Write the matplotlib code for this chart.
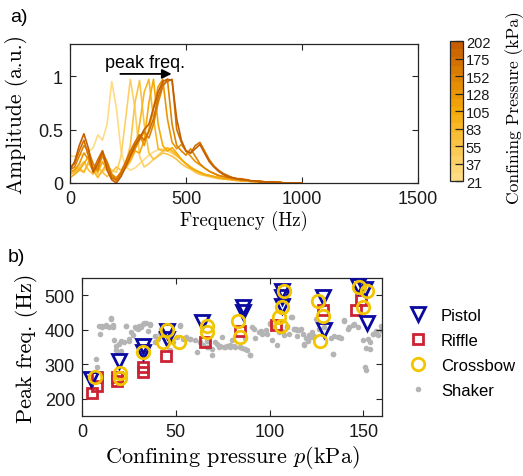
import matplotlib
matplotlib.use('Agg')
import matplotlib.pyplot as plt
import numpy as np
from matplotlib.colors import LinearSegmentedColormap, Normalize
from matplotlib.cm import ScalarMappable

plt.rcParams['font.family'] = ['Liberation Sans', 'DejaVu Sans']
plt.rcParams['mathtext.fontset'] = 'cm'

# ---- panel a: spectra (20 Hz grid, 0..1000 Hz) ----
freq = np.arange(0, 1001, 20)
pressures = [21, 37, 55, 83, 105, 128, 152, 175, 202]
spectra = [
    [0.25, 0.25, 0.26, 0.27, 0.29, 0.33, 0.45, 0.40, 0.55, 0.95,
     0.70, 0.30, 0.15, 0.12, 0.14, 0.18, 0.22, 0.26, 0.29, 0.31,
     0.32, 0.31, 0.29, 0.26, 0.22, 0.18, 0.14, 0.11, 0.09, 0.08,
     0.07, 0.06, 0.05, 0.05, 0.04, 0.04, 0.03, 0.03, 0.02, 0.02,
     0.02, 0.01, 0.01, 0.01, 0.01, 0.01, 0.0, 0.0, 0.0, 0.0, 0.0],
    [0.15, 0.14, 0.12, 0.10, 0.18, 0.12, 0.08, 0.10, 0.15, 0.12,
     0.10, 0.25, 0.60, 0.97, 0.70, 0.25, 0.15, 0.18, 0.22, 0.26,
     0.30, 0.30, 0.28, 0.25, 0.22, 0.18, 0.15, 0.12, 0.10, 0.08,
     0.07, 0.06, 0.05, 0.04, 0.04, 0.03, 0.03, 0.02, 0.02, 0.02,
     0.01, 0.01, 0.01, 0.01, 0.01, 0.0, 0.0, 0.0, 0.0, 0.0, 0.0],
    [0.10, 0.12, 0.15, 0.20, 0.12, 0.08, 0.15, 0.10, 0.06, 0.10,
     0.15, 0.12, 0.18, 0.35, 0.75, 0.96, 0.55, 0.28, 0.22, 0.25,
     0.28, 0.27, 0.25, 0.22, 0.18, 0.15, 0.13, 0.10, 0.08, 0.07,
     0.06, 0.05, 0.04, 0.04, 0.03, 0.03, 0.02, 0.02, 0.02, 0.01,
     0.01, 0.01, 0.01, 0.01, 0.0, 0.0, 0.0, 0.0, 0.0, 0.0, 0.0],
    [0.08, 0.10, 0.14, 0.10, 0.20, 0.12, 0.05, 0.12, 0.18, 0.08,
     0.04, 0.10, 0.14, 0.20, 0.30, 0.55, 0.85, 0.97, 0.60, 0.32,
     0.30, 0.33, 0.30, 0.26, 0.22, 0.18, 0.15, 0.12, 0.10, 0.08,
     0.07, 0.06, 0.05, 0.04, 0.04, 0.03, 0.03, 0.02, 0.02, 0.02,
     0.01, 0.01, 0.01, 0.01, 0.01, 0.0, 0.0, 0.0, 0.0, 0.0, 0.0],
    [0.05, 0.08, 0.12, 0.18, 0.25, 0.15, 0.10, 0.20, 0.12, 0.05,
     0.02, 0.08, 0.15, 0.22, 0.30, 0.28, 0.40, 0.75, 0.97, 0.55,
     0.35, 0.30, 0.33, 0.28, 0.22, 0.18, 0.14, 0.12, 0.10, 0.08,
     0.07, 0.06, 0.05, 0.04, 0.04, 0.03, 0.03, 0.02, 0.02, 0.02,
     0.01, 0.01, 0.01, 0.01, 0.01, 0.0, 0.0, 0.0, 0.0, 0.0, 0.0],
    [0.10, 0.12, 0.18, 0.28, 0.22, 0.10, 0.15, 0.25, 0.15, 0.08,
     0.05, 0.10, 0.18, 0.28, 0.38, 0.45, 0.35, 0.50, 0.70, 0.90,
     0.97, 0.60, 0.38, 0.32, 0.36, 0.30, 0.25, 0.20, 0.17, 0.14,
     0.11, 0.09, 0.07, 0.06, 0.05, 0.04, 0.03, 0.03, 0.02, 0.02,
     0.02, 0.01, 0.01, 0.01, 0.01, 0.01, 0.0, 0.0, 0.0, 0.0, 0.0],
    [0.12, 0.15, 0.25, 0.35, 0.30, 0.18, 0.12, 0.28, 0.20, 0.08,
     0.02, 0.08, 0.18, 0.25, 0.32, 0.40, 0.48, 0.42, 0.55, 0.75,
     0.90, 0.97, 0.55, 0.35, 0.30, 0.26, 0.32, 0.25, 0.18, 0.14,
     0.11, 0.09, 0.07, 0.06, 0.05, 0.04, 0.04, 0.03, 0.03, 0.02,
     0.02, 0.01, 0.01, 0.01, 0.01, 0.01, 0.0, 0.0, 0.0, 0.0, 0.0],
    [0.15, 0.18, 0.30, 0.40, 0.25, 0.12, 0.22, 0.30, 0.18, 0.05,
     0.03, 0.10, 0.20, 0.30, 0.38, 0.45, 0.40, 0.48, 0.60, 0.80,
     0.92, 0.95, 0.97, 0.50, 0.38, 0.30, 0.28, 0.35, 0.38, 0.30,
     0.22, 0.16, 0.12, 0.09, 0.07, 0.05, 0.04, 0.04, 0.03, 0.02,
     0.02, 0.02, 0.01, 0.01, 0.01, 0.01, 0.0, 0.0, 0.0, 0.0, 0.0],
    [0.12, 0.20, 0.35, 0.46, 0.32, 0.10, 0.18, 0.30, 0.12, 0.03,
     0.0, 0.06, 0.15, 0.25, 0.35, 0.42, 0.50, 0.55, 0.70, 0.85,
     0.95, 0.97, 0.96, 0.60, 0.40, 0.30, 0.28, 0.32, 0.36, 0.28,
     0.20, 0.15, 0.11, 0.08, 0.06, 0.05, 0.04, 0.03, 0.03, 0.02,
     0.02, 0.01, 0.01, 0.01, 0.01, 0.0, 0.0, 0.0, 0.0, 0.0, 0.0],
]

# ---- panel b: peak frequency vs confining pressure ----
pistol_p = [4.7, 19.5, 32.4, 32.4, 45.3, 45.3, 63.8, 85.8, 85.8, 106.8, 106.8, 106.5,
            128.3, 129.2, 147.1, 150.7, 152.1]
pistol_f = [258, 310, 354, 335, 395, 372, 422, 465, 451, 512, 494, 470,
            494, 398, 528, 518, 419]
riffle_p = [5.2, 8.2, 8.2, 18.4, 18.4, 32.4, 32.4, 44.6, 65.6, 84.0, 103.2, 128.3, 146.2, 148.9]
riffle_f = [218, 237, 262, 250, 262, 292, 277, 323, 364, 395, 413, 456, 456, 485]
crossbow_p = [6.8, 20.0, 20.0, 32.4, 45.3, 43.2, 51.8, 66.5, 66.5, 83.0, 84.0,
              107.7, 106.5, 105.0, 106.0, 125.6, 128.3, 127.0, 147.8, 152.1, 149.8]
crossbow_f = [262, 275, 261, 335, 400, 364, 364, 410, 393, 425, 379,
              512, 467, 437, 410, 483, 439, 367, 525, 512, 467]
shaker_p = [7.3, 8.2, 9.5, 10.6, 12.7, 14.5, 15.4, 16.3, 17.2, 18.1, 19.9, 20.8, 22.6, 23.5,
            24.9, 26.2, 27.1, 28.0, 29.7, 31.5, 32.4, 34.2, 36.0, 35.1, 38.7, 40.5, 42.3,
            46.8, 48.6, 50.4, 52.2, 53.9, 55.7, 57.5, 60.2, 61.1, 62.9, 66.5,
            64.7, 67.4, 69.2, 71.0, 72.8, 74.5, 76.3, 79.0, 79.9, 81.7, 85.3, 88.0, 89.4,
            87.1, 90.7, 92.5, 94.3, 96.1, 97.9, 100.5, 101.4, 104.1, 105.0, 107.7, 109.5,
            110.4, 111.3, 113.1, 114.9,
            112.2, 114.0, 115.8, 117.6, 119.3, 118.4, 121.1, 122.9, 124.7, 126.5, 129.2,
            132.8, 133.7, 136.4, 138.2, 139.9, 142.6, 144.4, 147.1, 149.8, 151.6, 150.7,
            151.6, 153.4, 155.2, 157.8, 159.6,
            9.1, 10.9, 12.7, 15.4, 16.3, 18.1, 19.0, 20.8, 23.5, 25.3, 28.9, 30.6, 33.3,
            36.0, 38.7, 41.4, 52.2, 54.8, 57.5, 62.9, 66.5, 69.2, 71.9, 73.7, 75.5, 77.3,
            79.0, 80.8, 84.4, 87.1, 89.8, 91.6, 95.2, 98.8, 100.5, 102.3, 106.8, 109.5,
            113.1, 114.9, 116.7, 118.5, 120.3, 122.0, 123.8, 133.7, 134.6, 137.3, 139.9,
            141.7, 145.3, 152.5, 153.4, 155.2, 157.0, 159.6]
shaker_f = [316, 292, 388, 410, 414, 407, 433, 414, 369, 340, 359, 337, 364, 412,
            366, 393, 385, 407, 402, 407, 417, 419, 414, 397, 364, 373, 402,
            340, 364, 378, 414, 373, 378, 373, 369, 335, 364, 349,
            355, 351, 327, 365, 351, 379, 351, 355, 370, 351, 346, 341, 327,
            375, 408, 375, 394, 389, 399, 418, 370, 355, 394, 384, 408,
            389, 437, 403, 399,
            437, 403, 399, 389, 375, 355, 384, 394, 432, 403, 408,
            375, 331, 379, 375, 427, 408, 413, 408, 370, 346, 293,
            283, 365, 389, 384, 399,
            412, 407, 410, 431, 407, 354, 335, 368, 412, 373, 404, 412, 421,
            416, 383, 392, 412, 373, 373, 364, 368, 344, 359, 354, 349, 354,
            349, 354, 349, 344, 327, 402, 397, 388, 421, 407, 397, 412,
            402, 383, 402, 359, 368, 378, 383, 330, 383, 378, 426,
            402, 416, 373, 344, 388, 397, 412]

cmap = LinearSegmentedColormap.from_list('press', ['#FFDC84', '#F5AA08', '#C65E00'], N=17)
axis_col = '#262626'
serif = 'cmr10'

fig = plt.figure(figsize=(5.23, 4.77), dpi=100)

def style(ax):
    ax.tick_params(direction='in', top=True, right=True, length=4, width=0.8, pad=5,
                   colors=axis_col, labelsize=13, labelcolor='#1a1a1a')
    for s in ax.spines.values():
        s.set_color(axis_col)
        s.set_linewidth(0.9)

# panel a
ax1 = fig.add_axes([0.1338, 0.6143, 0.6654, 0.2914])
for i, amp in enumerate(spectra):
    ax1.plot(freq, amp, color=cmap(i / 8), lw=1.2)
ax1.set_xlim(0, 1500)
ax1.set_ylim(0, 1.3)
ax1.set_xticks([0, 500, 1000, 1500])
ax1.set_yticks([0, 0.5, 1])
ax1.set_yticklabels(['0', '0.5', '1'])
style(ax1)
ax1.set_xlabel('Frequency (Hz)', fontfamily=serif, fontsize=13.5, labelpad=2)
ax1.set_ylabel('Amplitude (a.u.)', fontfamily=serif, fontsize=15.5, labelpad=7)
ax1.annotate('', xy=(450, 1.02), xytext=(205, 1.02),
             arrowprops=dict(arrowstyle='-|>', color='black', lw=1.3, mutation_scale=14))
ax1.text(150, 1.13, 'peak freq.', fontsize=13, va='center', ha='left')

# colorbar
cax = fig.add_axes([0.8604, 0.6184, 0.0249, 0.2935])
sm = ScalarMappable(norm=Normalize(0, 8), cmap=cmap)
cb = fig.colorbar(sm, cax=cax, ticks=range(9))
cb.set_ticklabels([str(p) for p in pressures])
cb.ax.tick_params(direction='in', length=6, width=0.9, colors=axis_col, labelsize=10.5,
                  labelcolor='#1a1a1a', pad=2)
cb.outline.set_linewidth(0.9)
cb.outline.set_edgecolor(axis_col)
fig.text(515 / 523, 1 - 108 / 477, 'Confining Pressure (kPa)', rotation=90,
         fontfamily=serif, fontsize=12.5, ha='center', va='center')

# panel b
ax2 = fig.add_axes([0.1568, 0.1258, 0.5736, 0.2893])
ax2.plot(shaker_p, shaker_f, 'o', color='#b4b4b4', ms=4, mec='none', label='Shaker', zorder=1)
ax2.plot(riffle_p, riffle_f, 's', mfc='none', mec='#cc2233', mew=2, ms=7.5, label='Riffle', zorder=2)
ax2.plot(pistol_p, pistol_f, 'v', mfc='none', mec='#0a0aa0', mew=2, ms=10, label='Pistol', zorder=3)
ax2.plot(crossbow_p, crossbow_f, 'o', mfc='none', mec='#f2c500', mew=2, ms=9, label='Crossbow', zorder=4)
ax2.set_xlim(0, 160)
ax2.set_ylim(150, 550)
ax2.set_xticks([0, 50, 100, 150])
ax2.set_yticks([200, 300, 400, 500])
style(ax2)
ax2.set_xlabel(r'Confining pressure $p$(kPa)', fontfamily=serif, fontsize=16, labelpad=2)
ax2.set_ylabel('Peak freq. (Hz)', fontfamily=serif, fontsize=16, labelpad=5)

h, l = ax2.get_legend_handles_labels()
order = [2, 1, 3, 0]
ax2.legend([h[k] for k in order], [l[k] for k in order], loc='upper left',
           bbox_to_anchor=(401 / 523, 1 - 302 / 477), bbox_transform=fig.transFigure,
           frameon=False, fontsize=12, handletextpad=0.8, labelspacing=0.6,
           handlelength=1.2, borderaxespad=0)

fig.text(10 / 523, 1 - 17 / 477, 'a)', fontsize=14, ha='left', va='center')
fig.text(8 / 523, 1 - 258 / 477, 'b)', fontsize=14, ha='left', va='center')

fig.savefig('out.png', dpi=100)
